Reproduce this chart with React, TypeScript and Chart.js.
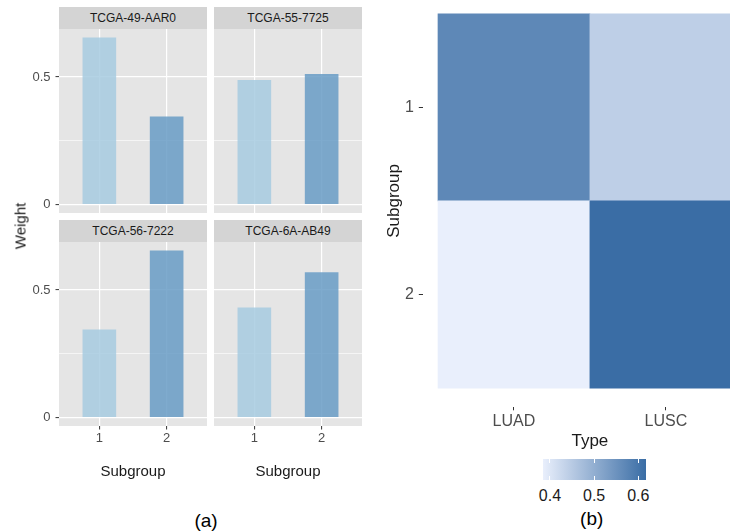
import React, { useEffect, useRef } from 'react';
import { Chart, registerables } from 'chart.js';

Chart.register(...registerables);

const FONT = "'Liberation Sans', Arial, Helvetica, sans-serif";
Chart.defaults.font.family = FONT;

// ---------- (a) facet bar chart data ----------
const sampleNames = ['TCGA-49-AAR0', 'TCGA-55-7725', 'TCGA-56-7222', 'TCGA-6A-AB49'];
const subgroupValues = [1, 2];
const subgroupLabels = ['1', '2'];
const weight49AAR0 = [0.655, 0.345];
const weight557725 = [0.488, 0.512];
const weight567222 = [0.345, 0.655];
const weight6AAB49 = [0.431, 0.569];
const weightTickValues = [0, 0.25, 0.5];
const weightTickLabels = ['0', '', '0.5'];

// ---------- (b) heatmap data ----------
const heatTypes = ['LUAD', 'LUSC'];
const heatSubgroups = ['1', '2'];
const heatLUAD = [0.569, 0.3835];
const heatLUSC = [0.441, 0.6167];
const legendTickValues = [0.4, 0.5, 0.6];
const legendTickLabels = ['0.4', '0.5', '0.6'];

// ---------- styles ----------
const PANEL_BG = '#E5E5E5';
const STRIP_BG = '#D4D4D4';
const BAR_COLORS = ['rgba(167,203,224,0.85)', 'rgba(105,156,198,0.85)'];
const LOW_RGB = [233, 239, 252];
const HIGH_RGB = [58, 109, 165];

const allHeat = [...heatLUAD, ...heatLUSC];
const HEAT_MIN = Math.min(...allHeat);
const HEAT_MAX = Math.max(...allHeat);

function heatColor(v: number) {
  const t = (v - HEAT_MIN) / (HEAT_MAX - HEAT_MIN);
  const c = LOW_RGB.map((l, i) => Math.round(l + (HIGH_RGB[i] - l) * t));
  return `rgb(${c[0]},${c[1]},${c[2]})`;
}

function zeroPadding(s: any) {
  s.paddingTop = 0;
  s.paddingBottom = 0;
  s.paddingLeft = 0;
  s.paddingRight = 0;
}

const panelBgPlugin = {
  id: 'panelBg',
  beforeDraw(chart: any) {
    const { ctx, chartArea: a } = chart;
    ctx.save();
    ctx.fillStyle = PANEL_BG;
    ctx.fillRect(a.left, a.top, a.right - a.left, a.bottom - a.top);
    ctx.restore();
  },
};

type FacetProps = {
  values: number[];
  left: number;
  top: number;
  width: number;
  height: number;
  showY: boolean;
  showX: boolean;
};

function FacetPanel({ values, left, top, width, height, showY, showX }: FacetProps) {
  const ref = useRef<HTMLCanvasElement>(null);
  useEffect(() => {
    const chart = new Chart(ref.current as HTMLCanvasElement, {
      type: 'bar',
      data: {
        datasets: [
          {
            data: subgroupValues.map((x, i) => ({ x, y: values[i] })) as any,
            backgroundColor: BAR_COLORS,
            borderWidth: 0,
            barPercentage: 0.5,
            categoryPercentage: 1,
          },
        ],
      },
      options: {
        responsive: false,
        animation: false,
        events: [],
        layout: { padding: 0 },
        plugins: { legend: { display: false }, tooltip: { enabled: false }, title: { display: false } },
        scales: {
          x: {
            type: 'linear',
            min: 0.4,
            max: 2.6,
            offset: false,
            afterBuildTicks: (s: any) => {
              s.ticks = subgroupValues.map((v) => ({ value: v }));
            },
            ticks: {
              display: showX,
              autoSkip: false,
              maxRotation: 0,
              padding: 1.3,
              color: '#4D4D4D',
              font: { size: 13 },
              callback: (_v: any, i: number) => subgroupLabels[i],
            },
            grid: {
              offset: false,
              color: '#FFFFFF',
              lineWidth: 1.2,
              drawTicks: showX,
              tickLength: 3.5,
              tickColor: '#333333',
              tickWidth: 1,
            },
            border: { display: false },
            title: {
              display: showX,
              text: 'Subgroup',
              color: '#1A1A1A',
              font: { size: 15 },
              padding: 0,
            },
            afterFit: (s: any) => {
              s.height = showX ? 55 : 0;
              zeroPadding(s);
            },
          } as any,
          y: {
            type: 'linear',
            min: -0.0328,
            max: 0.6878,
            beginAtZero: false,
            afterBuildTicks: (s: any) => {
              s.ticks = weightTickValues.map((v) => ({ value: v }));
            },
            ticks: {
              display: showY,
              autoSkip: false,
              padding: 5,
              color: '#4D4D4D',
              font: { size: 13 },
              callback: (_v: any, i: number) => weightTickLabels[i],
            },
            grid: {
              color: '#FFFFFF',
              lineWidth: (c: any) => (c.tick && weightTickLabels[c.index] === '' ? 0.6 : 1.2),
              drawTicks: showY,
              tickLength: 3.5,
              tickColor: (c: any) => (c.tick && weightTickLabels[c.index] === '' ? 'rgba(0,0,0,0)' : '#333333'),
              tickWidth: 1,
            },
            border: { display: false },
            afterFit: (s: any) => {
              s.width = showY ? 59 : 0;
              zeroPadding(s);
            },
          } as any,
        },
      },
      plugins: [panelBgPlugin],
    });
    return () => chart.destroy();
  }, []);
  return (
    <canvas
      ref={ref}
      width={width}
      height={height}
      style={{ position: 'absolute', left, top, width, height }}
    />
  );
}

function Heatmap() {
  const ref = useRef<HTMLCanvasElement>(null);
  useEffect(() => {
    const cells: { x: number; y: [number, number]; v: number }[] = [];
    heatSubgroups.forEach((_s, r) => {
      heatTypes.forEach((_t, c) => {
        const v = c === 0 ? heatLUAD[r] : heatLUSC[r];
        cells.push({ x: c + 1, y: [r + 0.5, r + 1.5], v });
      });
    });
    const chart = new Chart(ref.current as HTMLCanvasElement, {
      type: 'bar',
      data: {
        datasets: [
          {
            data: cells.map((c) => ({ x: c.x, y: c.y })) as any,
            backgroundColor: cells.map((c) => heatColor(c.v)),
            borderWidth: 0,
            barPercentage: 1,
            categoryPercentage: 1,
          },
        ],
      },
      options: {
        responsive: false,
        animation: false,
        events: [],
        layout: { padding: 0 },
        plugins: { legend: { display: false }, tooltip: { enabled: false }, title: { display: false } },
        scales: {
          x: {
            type: 'linear',
            min: 0.4,
            max: 2.6,
            offset: false,
            afterBuildTicks: (s: any) => {
              s.ticks = heatTypes.map((_t, i) => ({ value: i + 1 }));
            },
            ticks: {
              autoSkip: false,
              maxRotation: 0,
              padding: 1.9,
              color: '#4D4D4D',
              font: { size: 16 },
              callback: (_v: any, i: number) => heatTypes[i],
            },
            grid: {
              offset: false,
              drawOnChartArea: false,
              drawTicks: true,
              tickLength: 3.5,
              tickColor: '#333333',
              tickWidth: 1,
            },
            border: { display: false },
            title: { display: true, text: 'Type', color: '#1A1A1A', font: { size: 17 }, padding: 0 },
            afterFit: (s: any) => {
              s.height = 45.2;
              zeroPadding(s);
            },
          } as any,
          y: {
            type: 'linear',
            min: 0.4,
            max: 2.6,
            reverse: true,
            beginAtZero: false,
            afterBuildTicks: (s: any) => {
              s.ticks = heatSubgroups.map((_t, i) => ({ value: i + 1 }));
            },
            ticks: {
              autoSkip: false,
              padding: 4.8,
              color: '#4D4D4D',
              font: { size: 16 },
              callback: (_v: any, i: number) => heatSubgroups[i],
            },
            grid: {
              drawOnChartArea: false,
              drawTicks: true,
              tickLength: 4,
              tickColor: '#333333',
              tickWidth: 1,
            },
            border: { display: false },
            title: { display: true, text: 'Subgroup', color: '#1A1A1A', font: { size: 17 }, padding: 0 },
            afterFit: (s: any) => {
              s.width = 38.8;
              zeroPadding(s);
            },
          } as any,
        },
      },
    });
    return () => chart.destroy();
  }, []);
  return (
    <canvas
      ref={ref}
      width={373}
      height={457}
      style={{ position: 'absolute', left: 384, top: -5, width: 373, height: 457 }}
    />
  );
}

function Strip({ text, left, top, width, height }: { text: string; left: number; top: number; width: number; height: number }) {
  return (
    <div
      style={{
        position: 'absolute',
        left,
        top,
        width,
        height,
        background: STRIP_BG,
        color: '#1A1A1A',
        fontSize: 12,
        lineHeight: `${height}px`,
        textAlign: 'center',
        whiteSpace: 'nowrap',
      }}
    >
      {text}
    </div>
  );
}

function CenterText({ text, x, y, size, color, rotate }: { text: string; x: number; y: number; size: number; color: string; rotate?: boolean }) {
  return (
    <div
      style={{
        position: 'absolute',
        left: x,
        top: y,
        transform: `translate(-50%, -50%)${rotate ? ' rotate(-90deg)' : ''}`,
        fontSize: size,
        lineHeight: 1,
        color,
        whiteSpace: 'nowrap',
      }}
    >
      {text}
    </div>
  );
}

function ColorBar() {
  const left = 542.7;
  const top = 459;
  const width = 103;
  const height = 21;
  const xOf = (v: number) => ((v - HEAT_MIN) / (HEAT_MAX - HEAT_MIN)) * width;
  return (
    <>
      <div
        style={{
          position: 'absolute',
          left,
          top,
          width,
          height,
          background: `linear-gradient(to right, ${heatColor(HEAT_MIN)}, ${heatColor(HEAT_MAX)})`,
        }}
      >
        {legendTickValues.map((v) => (
          <React.Fragment key={v}>
            <div style={{ position: 'absolute', left: xOf(v) - 0.5, top: 0, width: 1, height: 4, background: '#FFFFFF' }} />
            <div style={{ position: 'absolute', left: xOf(v) - 0.5, bottom: 0, width: 1, height: 4, background: '#FFFFFF' }} />
          </React.Fragment>
        ))}
      </div>
      {legendTickValues.map((v, i) => (
        <CenterText key={v} text={legendTickLabels[i]} x={left + xOf(v)} y={496} size={16} color="#1A1A1A" />
      ))}
    </>
  );
}

export default function App() {
  return (
    <div
      style={{
        position: 'fixed',
        left: 0,
        top: 0,
        width: 730,
        height: 531,
        overflow: 'hidden',
        background: '#FFFFFF',
        fontFamily: FONT,
      }}
    >
      <Strip text={sampleNames[0]} left={59} top={7} width={148} height={22} />
      <Strip text={sampleNames[1]} left={214} top={7} width={148} height={22} />
      <Strip text={sampleNames[2]} left={59} top={220} width={148} height={22} />
      <Strip text={sampleNames[3]} left={214} top={220} width={148} height={22} />

      <FacetPanel values={weight49AAR0} left={0} top={29} width={207} height={184} showY={true} showX={false} />
      <FacetPanel values={weight557725} left={214} top={29} width={148} height={184} showY={false} showX={false} />
      <FacetPanel values={weight567222} left={0} top={242} width={207} height={239} showY={true} showX={true} />
      <FacetPanel values={weight6AAB49} left={214} top={242} width={148} height={239} showY={false} showX={true} />

      <CenterText text="Weight" x={20} y={226} size={15} color="#1A1A1A" rotate />
      <CenterText text="(a)" x={206} y={520} size={19} color="#000000" />

      <Heatmap />
      <ColorBar />
      <CenterText text="(b)" x={591.7} y={518.3} size={19} color="#000000" />
    </div>
  );
}
